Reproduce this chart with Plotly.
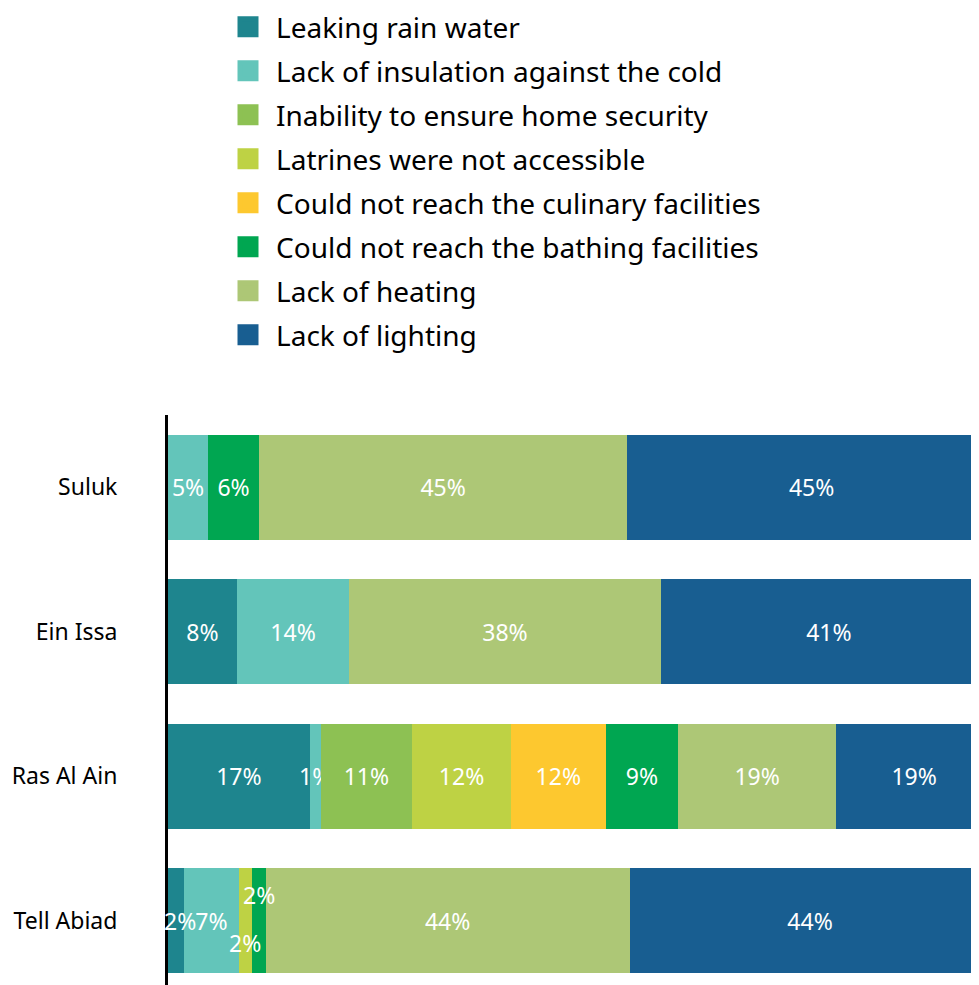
import plotly.graph_objects as go

categories = ["Suluk", "Ein Issa", "Ras Al Ain", "Tell Abiad"]
series_names = [
    "Leaking rain water",
    "Lack of insulation against the cold",
    "Inability to ensure home security",
    "Latrines were not accessible",
    "Could not reach the culinary facilities",
    "Could not reach the bathing facilities",
    "Lack of heating",
    "Lack of lighting",
]
colors = ["#1E858E", "#63C5BA", "#8DC153", "#BED244", "#FDC82F", "#00A651", "#ADC776", "#185E91"]

# values (%) per series, in category order: Suluk, Ein Issa, Ras Al Ain, Tell Abiad
leaking = [None, 8.4, 17.3, 2.0]
insulation = [4.9, 13.7, 1.3, 6.6]
security = [None, None, 11.2, None]
latrines = [None, None, 12.0, 1.6]
culinary = [None, None, 11.6, None]
bathing = [6.2, None, 8.8, 1.7]
heating = [44.9, 38.0, 19.3, 44.4]
lighting = [45.0, 41.0, 19.0, 44.0]

series_values = [leaking, insulation, security, latrines, culinary, bathing, heating, lighting]

# small-segment labels drawn as annotations on top: (series index, category) -> (xshift, yshift)
offset_labels = {
    (0, "Tell Abiad"): (4, 0),
    (3, "Tell Abiad"): (0, -22),
    (5, "Tell Abiad"): (0, 26),
}

FONT = "Noto Sans"
LABEL_SIZE = 23
fig = go.Figure()

for i, (name, vals, col) in enumerate(zip(series_names, series_values, colors)):
    texts = []
    for c, v in zip(categories, vals):
        if v is None or (i, c) in offset_labels:
            texts.append("")
        else:
            texts.append(f"{round(v)}%")
    fig.add_trace(go.Bar(
        y=categories, x=vals, orientation="h", name=name,
        marker=dict(color=col, line=dict(width=0)),
        text=texts, textposition="inside", insidetextanchor="middle",
        textangle=0, textfont=dict(color="white", size=LABEL_SIZE, family=FONT),
        showlegend=False, legendgroup=name, hoverinfo="skip",
    ))
    # legend proxy with larger square symbol
    fig.add_trace(go.Scatter(
        x=[None], y=[None], mode="markers", name=name,
        marker=dict(symbol="square", size=16, color=col, line=dict(color=col, width=5)),
        legendgroup=name, showlegend=True,
    ))

# small-segment labels positioned from data
for (i, c), (xs, ys) in offset_labels.items():
    idx = categories.index(c)
    start = sum((series_values[k][idx] or 0) for k in range(i))
    v = series_values[i][idx]
    fig.add_annotation(
        x=start + v / 2, y=c, text=f"{round(v)}%", showarrow=False,
        xshift=xs, yshift=ys, font=dict(color="white", size=LABEL_SIZE, family=FONT),
    )

totals = [sum((s[j] or 0) for s in series_values) for j in range(len(categories))]
x_max = max(totals)

fig.update_layout(
    width=989, height=977,
    margin=dict(l=160, r=0, t=407, b=0, autoexpand=False),
    barmode="stack", bargap=0.273,
    plot_bgcolor="white", paper_bgcolor="white",
    font=dict(family=FONT, color="black"),
    uniformtext=dict(minsize=LABEL_SIZE, mode="show"),
    showlegend=True,
    legend=dict(
        xref="paper", yref="paper", x=52 / 829, y=1 + 413 / 570,
        xanchor="left", yanchor="top",
        font=dict(size=28, family=FONT, color="black"),
        tracegroupgap=4.6, itemwidth=46,
        bgcolor="rgba(0,0,0,0)",
    ),
    xaxis=dict(range=[0, x_max], visible=False, showgrid=False, zeroline=False, fixedrange=True),
    yaxis=dict(
        categoryorder="array", categoryarray=categories[::-1],
        range=[-0.446, 3.5],
        showline=True, linewidth=3, linecolor="black",
        ticks="", showgrid=False, zeroline=False,
        ticklabelstandoff=43,
        tickfont=dict(size=23, family=FONT, color="black"),
    ),
)

fig.write_html("out.html")
